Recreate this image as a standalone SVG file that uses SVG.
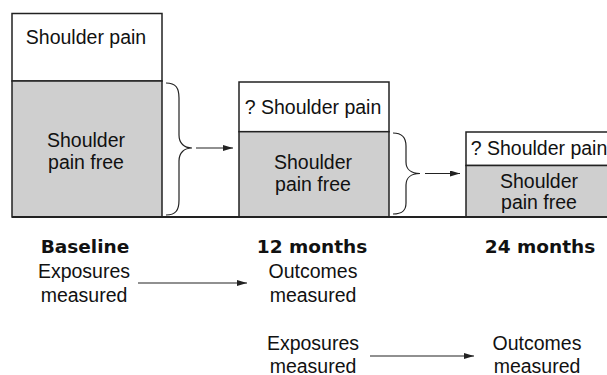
<svg xmlns="http://www.w3.org/2000/svg" width="607" height="375" viewBox="0 0 607 375">
<style>
.t{font-family:"Liberation Sans",Arial,sans-serif;font-size:19.5px;fill:#111;text-anchor:middle}
.h{font-family:"DejaVu Sans",sans-serif;font-weight:bold;font-size:18.5px;fill:#111;text-anchor:middle}
.w{fill:#fff;stroke:#222;stroke-width:1.5}
.g{fill:#cfcfcf;stroke:#222;stroke-width:1.5}
.br{fill:none;stroke:#222;stroke-width:1.2}
.ar{fill:none;stroke:#222;stroke-width:1.2;marker-end:url(#ah)}
</style>
<defs>
<marker id="ah" viewBox="0 0 10 6" refX="10" refY="3" markerWidth="10" markerHeight="6" markerUnits="userSpaceOnUse" orient="auto">
<path d="M0,0 L10,3 L0,6 Z" fill="#222"/>
</marker>
</defs>
<g id="baseline-box">
<rect class="w" x="12" y="13.5" width="150" height="67.5"/>
<rect class="g" x="12" y="81" width="150" height="136"/>
<text class="t" x="86" y="43.5">Shoulder pain</text>
<text class="t" x="86" y="146.5">Shoulder</text>
<text class="t" x="86" y="168.5">pain free</text>
</g>
<g id="box-12m">
<rect class="w" x="239" y="82" width="150" height="49.7"/>
<rect class="g" x="239" y="131.7" width="150" height="85.3"/>
<text class="t" x="313" y="113.5">? Shoulder pain</text>
<text class="t" x="313" y="169">Shoulder</text>
<text class="t" x="313" y="191">pain free</text>
</g>
<g id="box-24m">
<rect class="w" x="466" y="132" width="150" height="33.5"/>
<rect class="g" x="466" y="165.5" width="150" height="51.5"/>
<text class="t" x="539" y="155">? Shoulder pain</text>
<text class="t" x="539" y="187.5">Shoulder</text>
<text class="t" x="539" y="209">pain free</text>
</g>
<g id="labels">
<text class="h" x="85" y="253">Baseline</text>
<text class="t" x="84" y="278">Exposures</text>
<text class="t" x="84" y="302">measured</text>
<text class="h" x="312" y="253">12 months</text>
<text class="t" x="313" y="278">Outcomes</text>
<text class="t" x="313" y="302">measured</text>
<text class="h" x="540" y="253">24 months</text>
<text class="t" x="313" y="350">Exposures</text>
<text class="t" x="313" y="372.5">measured</text>
<text class="t" x="537" y="350">Outcomes</text>
<text class="t" x="537" y="372.5">measured</text>
</g>
<g id="connectors">
<line x1="12" y1="217" x2="607" y2="217" stroke="#222" stroke-width="2"/>
<path class="br" d="M166,83 C176,83 179,88 179,98 L179,135 C179,143 184,148 192,148 C184,148 179,153 179,161 L179,200 C179,210 176,215 166,215"/>
<path class="br" d="M393,133 C403,133 406,138 406,146 L406,162 C406,169 411,173.5 420,173.5 C411,173.5 406,178 406,185 L406,203 C406,210 403,214 393,214"/>
<line class="ar" x1="196" y1="148" x2="233" y2="148"/>
<line class="ar" x1="425" y1="173.5" x2="460" y2="173.5"/>
<line class="ar" x1="138" y1="283" x2="247" y2="283"/>
<line class="ar" x1="370" y1="356" x2="474" y2="356"/>
</g>
</svg>
